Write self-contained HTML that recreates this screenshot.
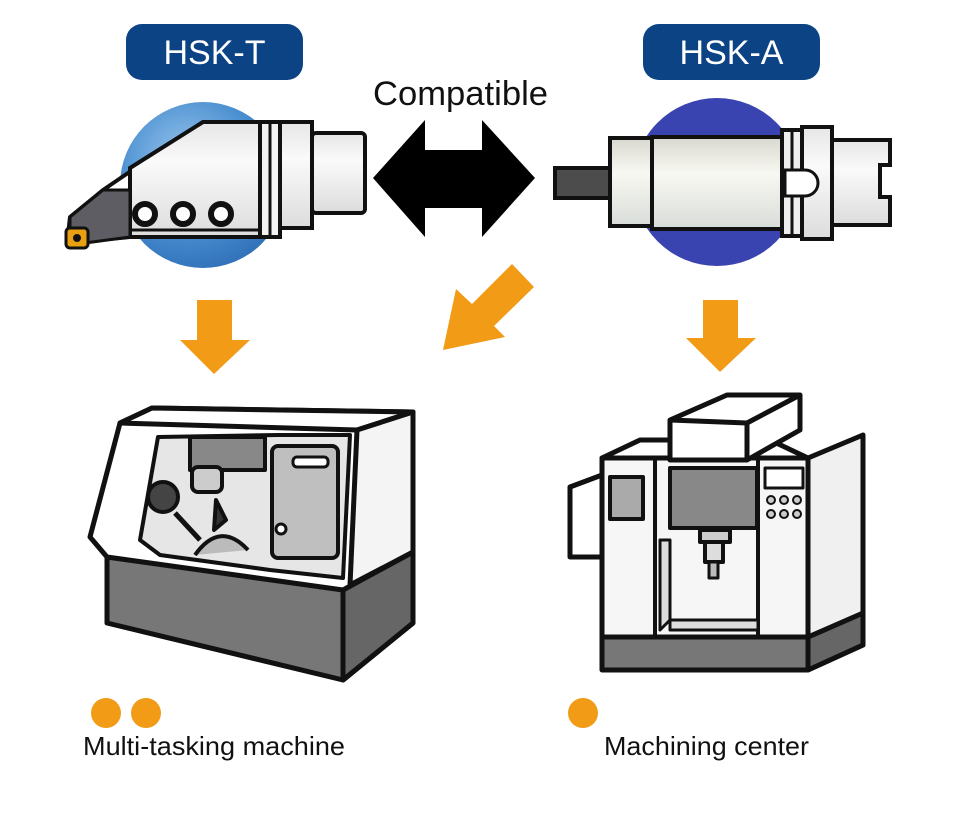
<!DOCTYPE html>
<html><head><meta charset="utf-8"><style>
html,body{margin:0;padding:0;background:#fff;}
svg{display:block;}
</style></head><body>
<svg width="960" height="818" viewBox="0 0 960 818" xmlns="http://www.w3.org/2000/svg" font-family="Liberation Sans, sans-serif">
<defs>
<radialGradient id="bl" cx="0.4" cy="0.35" r="0.7"><stop offset="0" stop-color="#9cc8ee"/><stop offset="0.6" stop-color="#4a8fd0"/><stop offset="1" stop-color="#2f6fb8"/></radialGradient>
<linearGradient id="metal" x1="0" y1="0" x2="0" y2="1"><stop offset="0" stop-color="#e6e6e6"/><stop offset="0.35" stop-color="#fafafa"/><stop offset="1" stop-color="#dcdcdc"/></linearGradient>
<linearGradient id="metal2" x1="0" y1="0" x2="0" y2="1"><stop offset="0" stop-color="#d8d8d0"/><stop offset="0.4" stop-color="#f8f8f2"/><stop offset="1" stop-color="#d8dcd8"/></linearGradient>
</defs>

<rect x="126" y="24" width="177" height="56" rx="16" fill="#0c4384"/>
<text x="214.5" y="64" font-size="34" fill="#fff" text-anchor="middle">HSK-T</text>
<rect x="643" y="24" width="177" height="56" rx="16" fill="#0c4384"/>
<text x="731.5" y="64" font-size="34" fill="#fff" text-anchor="middle">HSK-A</text>
<text x="373" y="105" font-size="34" fill="#111" textLength="175" lengthAdjust="spacingAndGlyphs">Compatible</text>

<polygon points="373,178 425,120 425,150 482,150 482,120 535,178 482,237 482,208 425,208 425,237" fill="#000"/>

<!-- left tool -->
<circle cx="203" cy="185" r="83" fill="url(#bl)"/>
<polygon points="67,243 70,217 103,190 203,122 260,122 260,237 130,237" fill="#fff" stroke="#111" stroke-width="4" stroke-linejoin="round"/>
<polygon points="130,168 203,122 260,122 260,237 130,237" fill="url(#metal)" stroke="#111" stroke-width="4"/>
<polygon points="70,217 103,190 130,190 130,237 70,245" fill="#5d5d63" stroke="#111" stroke-width="3"/>
<rect x="66" y="228" width="22" height="20" rx="4" fill="#e8a010" stroke="#111" stroke-width="3"/>
<circle cx="77" cy="238" r="4" fill="#111"/>
<line x1="130" y1="230" x2="260" y2="230" stroke="#111" stroke-width="3"/>
<circle cx="145" cy="214" r="10" fill="#fff" stroke="#111" stroke-width="6"/>
<circle cx="183" cy="214" r="10" fill="#fff" stroke="#111" stroke-width="6"/>
<circle cx="221" cy="214" r="10" fill="#fff" stroke="#111" stroke-width="6"/>
<rect x="260" y="122" width="20" height="115" fill="#f2f2f2" stroke="#111" stroke-width="4"/>
<line x1="270" y1="122" x2="270" y2="237" stroke="#111" stroke-width="3"/>
<rect x="280" y="122" width="32" height="106" fill="url(#metal)" stroke="#111" stroke-width="4"/>
<rect x="312" y="133" width="53" height="80" rx="4" fill="url(#metal)" stroke="#111" stroke-width="4"/>

<!-- right tool -->
<circle cx="717" cy="182" r="84" fill="#3a44b0"/>
<rect x="555" y="168" width="55" height="30" fill="#4c4c4c" stroke="#111" stroke-width="4"/>
<rect x="610" y="138" width="42" height="88" fill="url(#metal2)" stroke="#111" stroke-width="4"/>
<rect x="652" y="137" width="130" height="92" fill="url(#metal2)" stroke="#111" stroke-width="4"/>
<rect x="782" y="130" width="20" height="106" fill="#eee" stroke="#111" stroke-width="4"/>
<line x1="792" y1="130" x2="792" y2="236" stroke="#111" stroke-width="3"/>
<rect x="802" y="127" width="30" height="112" fill="url(#metal)" stroke="#111" stroke-width="4"/>
<path d="M832 140 H890 V165 H880 V197 H890 V225 H832 Z" fill="url(#metal)" stroke="#111" stroke-width="4"/>
<path d="M785 170 H805 A13 13 0 0 1 805 196 H785 Z" fill="#fff" stroke="#111" stroke-width="3"/>

<g fill="#f19b16">
<polygon points="197,300 232,300 232,340 250,340 214,374 180,340 197,340"/>
<polygon points="703,300 738,300 738,338 756,338 720,372 686,338 703,338"/>
<polygon points="443,350 456,289 472,304 512,264 534,287 494,326 505,337"/>
</g>

<!-- left machine -->
<g stroke="#111" stroke-width="5" stroke-linejoin="round">
<polygon points="107,555 343,588 413,550 413,623 343,680 107,623" fill="#777"/>
<polygon points="343,588 413,550 413,623 343,680" fill="#666"/>
<line x1="343" y1="588" x2="343" y2="680"/>
<polygon points="120,423 152,408 413,412 413,552 343,590 107,557 90,537" fill="#fff"/>
<polygon points="120,423 152,408 413,412 357,430" fill="#fff"/>
<polygon points="357,430 413,412 413,552 350,585" fill="#f4f4f4"/>
<polygon points="158,437 278,435 350,435 343,578 270,570 160,555 140,540" fill="#e6e6e6" stroke-width="4"/>
<rect x="272" y="446" width="66" height="112" rx="6" fill="#bfbfbf" stroke-width="4"/>
<rect x="293" y="457" width="35" height="10" rx="4" fill="#fff" stroke-width="3"/>
<circle cx="281" cy="529" r="5" fill="#fff" stroke-width="3"/>
<rect x="190" y="437" width="75" height="33" fill="#888" stroke-width="4"/>
<rect x="192" y="467" width="30" height="25" rx="6" fill="#ccc" stroke-width="4"/>
<circle cx="163" cy="497" r="15" fill="#444" stroke-width="4"/>
<polygon points="216,500 226,520 214,530" fill="#333" stroke-width="4"/>
<path d="M195 555 Q220 520 248 550" fill="#bbb" stroke-width="4"/>
<line x1="175" y1="513" x2="200" y2="540" stroke-width="5"/>
</g>

<!-- right machine -->
<g stroke="#111" stroke-width="5" stroke-linejoin="round">
<polygon points="602,637 808,637 863,613 863,645 808,670 602,670" fill="#777"/>
<polygon points="808,637 863,613 863,645 808,670" fill="#666"/>
<polygon points="602,458 808,458 808,637 602,637" fill="#f6f6f6"/>
<polygon points="602,458 640,440 670,440 700,440 770,440 808,458" fill="#fff"/>
<polygon points="808,458 863,435 863,613 808,637" fill="#f0f0f0"/>
<polygon points="570,487 602,475 602,557 570,557" fill="#fff"/>
<polygon points="670,420 727,395 800,395 800,430 747,460 670,460" fill="#fff"/>
<line x1="747" y1="423" x2="800" y2="395"/>
<line x1="670" y1="420" x2="747" y2="423"/>
<line x1="747" y1="423" x2="747" y2="460"/>
<rect x="610" y="477" width="33" height="42" fill="#aaa" stroke-width="4"/>
<line x1="655" y1="458" x2="655" y2="637" stroke-width="4"/>
<line x1="758" y1="458" x2="758" y2="637" stroke-width="4"/>
<rect x="670" y="468" width="87" height="60" fill="#888" stroke-width="4"/>
<polygon points="660,540 670,540 670,620 660,630" fill="#ddd" stroke-width="3"/>
<polygon points="670,620 758,620 758,630 670,630" fill="#ddd" stroke-width="3"/>
<rect x="700" y="530" width="30" height="12" fill="#ccc" stroke-width="4"/>
<rect x="705" y="542" width="18" height="20" fill="#ddd" stroke-width="4"/>
<rect x="709" y="562" width="9" height="16" fill="#bbb" stroke-width="3"/>
<rect x="765" y="468" width="38" height="20" fill="#fff" stroke-width="3"/>
</g>
<g fill="#ccc" stroke="#111" stroke-width="2">
<circle cx="771" cy="500" r="4"/><circle cx="784" cy="500" r="4"/><circle cx="797" cy="500" r="4"/>
<circle cx="771" cy="514" r="4"/><circle cx="784" cy="514" r="4"/><circle cx="797" cy="514" r="4"/>
</g>

<circle cx="106" cy="713" r="15" fill="#f19b16"/>
<circle cx="146" cy="713" r="15" fill="#f19b16"/>
<circle cx="583" cy="713" r="15" fill="#f19b16"/>
<text x="83" y="755" font-size="26" fill="#111" textLength="262" lengthAdjust="spacingAndGlyphs">Multi-tasking machine</text>
<text x="604" y="755" font-size="26" fill="#111" textLength="205" lengthAdjust="spacingAndGlyphs">Machining center</text>
</svg>
</body></html>
